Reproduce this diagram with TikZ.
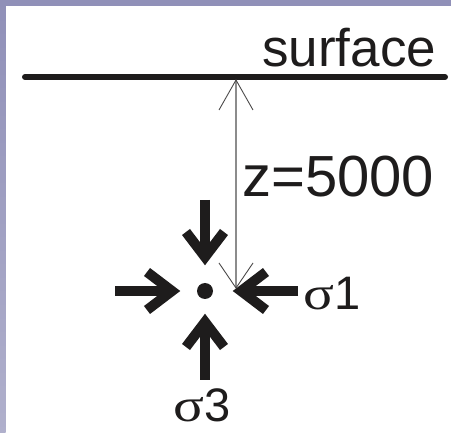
\documentclass[tikz,border=0pt]{standalone}
\usepackage{graphicx}
\usepackage{fontspec}
\setmainfont{Liberation Sans}
\newfontfamily\greekserif{Liberation Serif}
\usetikzlibrary{calc}
\definecolor{ink}{RGB}{30,28,28}
\definecolor{bandtop}{RGB}{144,144,184}
\definecolor{bandbot}{RGB}{176,176,204}
\definecolor{dimgray}{RGB}{140,140,140}
\newcommand\widesigma{\scalebox{1.22}[1]{\greekserif σ}}
\tikzset{
  heavy/.style={draw=ink, line width=10pt, line join=miter, line cap=butt},
  thinarm/.style={draw=ink!80, line width=0.9pt},
  dimline/.style={draw=dimgray, line width=1.6pt},
  lbl/.style={inner sep=0pt, anchor=base west, text=ink},
}
\begin{document}
\begin{tikzpicture}[x=1pt,y=-1pt]
\useasboundingbox (0,0) rectangle (451,433);
% frame bands
\shade[top color=bandtop, bottom color=bandbot] (0,0) rectangle (5.5,433);
\fill[bandtop] (0,0) rectangle (451,6);
% surface
\coordinate (sL) at (25,77);
\coordinate (sR) at (445,77);
\draw[ink, line width=6pt, line cap=round] (sL) -- (sR);
\node[lbl, font=\fontsize{53}{53}\selectfont] (surf) at (262,67) {surface};
% depth dimension
\coordinate (dTop) at (236,80);
\coordinate (dBot) at (236,288);
\draw[dimline] (dTop) -- (dBot);
\draw[thinarm] ($(dTop)+(-17,30)$) -- (dTop) -- ($(dTop)+(17,30)$);
\draw[thinarm] ($(dBot)+(-17,-25)$) -- (dBot) -- ($(dBot)+(17,-25)$);
\node[lbl, font=\fontsize{58}{58}\selectfont] (zlab) at (242,197) {z=5000};
% point
\node[circle, fill=ink, inner sep=0pt, minimum size=16pt] (pt) at (205,291) {};
% top arrow
\coordinate (tS) at (205,200);
\coordinate (tT) at (205,257);
\draw[heavy] (tS) -- ($(tT)+(0,-3)$);
\draw[heavy] ($(tT)+(-19,-25)$) -- (tT) -- ($(tT)+(19,-25)$);
% bottom arrow
\coordinate (bS) at (205,380);
\coordinate (bT) at (205,322);
\draw[heavy] (bS) -- ($(bT)+(0,3)$);
\draw[heavy] ($(bT)+(-19,25)$) -- (bT) -- ($(bT)+(19,25)$);
% left arrow
\coordinate (lS) at (115,291);
\coordinate (lT) at (172,291);
\draw[heavy] (lS) -- ($(lT)+(-3,0)$);
\draw[heavy] ($(lT)+(-25,-19)$) -- (lT) -- ($(lT)+(-25,19)$);
% right arrow
\coordinate (rS) at (298,291);
\coordinate (rT) at (241,291);
\draw[heavy] (rS) -- ($(rT)+(3,0)$);
\draw[heavy] ($(rT)+(25,-19)$) -- (rT) -- ($(rT)+(25,19)$);
% labels
\node[lbl, font=\fontsize{47}{47}\selectfont] (s1) at (303,310) {\widesigma1};
\node[lbl, font=\fontsize{47}{47}\selectfont] (s3) at (173,422) {\widesigma3};
\end{tikzpicture}
\end{document}
